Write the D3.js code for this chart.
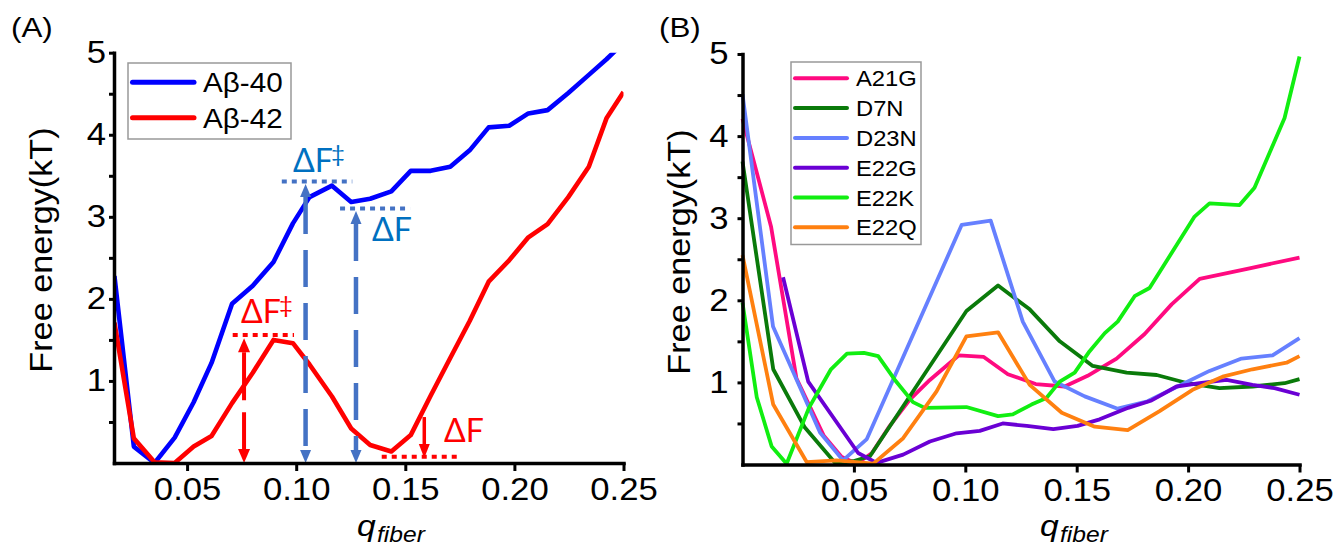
<!DOCTYPE html>
<html><head><meta charset="utf-8">
<script src="https://cdn.jsdelivr.net/npm/d3@7"></script>
<style>
html,body{margin:0;padding:0;background:#fff;}
svg{display:block;}
</style></head><body>
<svg id="chart" width="1338" height="547"></svg>
<script>
// ---------- Panel A data ----------
const qA = [0.0167,0.0256,0.0351,0.0443,0.0530,0.0612,0.0706,0.0801,0.0896,0.0985,0.1061,0.1164,0.1252,0.1339,0.1436,0.1525,0.1616,0.1706,0.1795,0.1882,0.1976,0.2064,0.2152,0.2247,0.2341,0.2422,0.2500];
const ab40 = [2.28,0.20,0.00,0.31,0.74,1.22,1.94,2.16,2.45,2.92,3.24,3.38,3.18,3.22,3.31,3.56,3.56,3.61,3.81,4.09,4.11,4.26,4.30,4.51,4.73,4.92,5.12];
const ab42 = [1.71,0.30,0.01,0.00,0.20,0.33,0.73,1.10,1.50,1.46,1.20,0.81,0.42,0.22,0.14,0.34,0.82,1.28,1.73,2.21,2.47,2.75,2.91,3.24,3.61,4.20,4.52];
const seriesA = ["Aβ-40","Aβ-42"];

// annotation values (q, free energy)
const dottedA = [ // [q0, q1, F, kind]
  [0.0934,0.1257,3.43,"b"],[0.1201,0.1522,3.10,"b"],
  [0.0709,0.0990,1.56,"r"],[0.1392,0.1743,0.077,"r"]];
const arrowsA = [ // [q, F up-tip, kind]
  [0.0761,1.52,"r"],[0.1043,3.40,"b"],[0.1274,3.07,"b"]];
const shortArrowA = [0.1587,0.56,0.06];

// ---------- Panel B data ----------
const mutants = ["A21G","D7N","D23N","E22G","E22K","E22Q"];
const A21G = [[0,4.21],[0.0128,2.90],[0.0242,1.05],[0.0365,0.35],[0.0446,0.09],[0.0513,0.01],[0.0581,0.14],[0.0661,0.47],[0.0751,0.79],[0.0841,1.03],[0.0971,1.33],[0.1083,1.31],[0.1191,1.10],[0.1316,0.98],[0.1446,0.95],[0.1549,1.08],[0.1679,1.29],[0.1805,1.59],[0.1926,1.95],[0.2052,2.26],[0.2276,2.39],[0.25,2.52]];
const D7N = [[0,3.69],[0.0138,1.16],[0.0280,0.45],[0.0419,0.01],[0.0496,0.04],[0.0572,0.10],[0.1005,1.87],[0.1147,2.18],[0.1289,1.89],[0.1424,1.50],[0.1572,1.20],[0.1724,1.12],[0.1859,1.09],[0.1998,0.99],[0.2141,0.93],[0.2289,0.95],[0.2433,0.99],[0.25,1.04]];
const D23N = [[0,4.51],[0.0137,1.68],[0.0348,0.39],[0.0451,0.05],[0.0558,0.31],[0.0984,2.92],[0.1114,2.97],[0.1258,1.74],[0.1401,1.01],[0.1536,0.83],[0.1684,0.68],[0.1818,0.77],[0.1953,0.95],[0.2096,1.14],[0.2240,1.29],[0.2379,1.33],[0.25,1.54]];
const E22G = [[0.0182,2.28],[0.0295,1.01],[0.0519,0.14],[0.0602,0.02],[0.0721,0.12],[0.0841,0.28],[0.0961,0.38],[0.1065,0.41],[0.1168,0.50],[0.1276,0.47],[0.1395,0.43],[0.1504,0.47],[0.1603,0.55],[0.1731,0.69],[0.1836,0.78],[0.1948,0.95],[0.2052,0.99],[0.2173,1.03],[0.2289,0.97],[0.2388,0.93],[0.25,0.85]];
const E22K = [[0,1.97],[0.0064,0.82],[0.0131,0.22],[0.0198,0.01],[0.0298,0.69],[0.0397,1.16],[0.0469,1.35],[0.0545,1.36],[0.0609,1.32],[0.0684,1.03],[0.0765,0.76],[0.0818,0.69],[0.1005,0.70],[0.1147,0.59],[0.1213,0.61],[0.1297,0.73],[0.1364,0.81],[0.1424,1.01],[0.1491,1.12],[0.1558,1.38],[0.1626,1.60],[0.1684,1.74],[0.1760,2.05],[0.1827,2.15],[0.2029,3.02],[0.2096,3.18],[0.2231,3.16],[0.2298,3.37],[0.2374,3.85],[0.2433,4.22],[0.25,4.97]];
const E22Q = [[0,2.55],[0.0138,0.73],[0.0288,0.03],[0.0422,0.05],[0.0587,0.01],[0.0721,0.32],[0.0871,0.89],[0.1005,1.56],[0.1147,1.61],[0.1289,0.97],[0.1433,0.63],[0.1581,0.46],[0.1729,0.42],[0.1872,0.65],[0.2020,0.91],[0.2155,1.07],[0.2289,1.16],[0.2442,1.24],[0.25,1.32]];

// ---------- ticks ----------
const xTicks = [0.05,0.10,0.15,0.20,0.25];
const xTickLabels = ["0.05","0.10","0.15","0.20","0.25"];
const yTicks = [1,2,3,4,5];
const yMinor = [0.5,1.5,2.5,3.5,4.5];

// ---------- styles ----------
const FONT = "'Liberation Sans', Arial, sans-serif";
const ANNO = "Lato, 'Open Sans', sans-serif";
const S = 1.12;
const colA = ["#0000FF","#FF0000"];
const colB = ["#FF0A80","#0A7A0A","#6680FF","#6A00D4","#11EE11","#FF8010"];
const annoCol = {b:"#4472C4", r:"#FF0000"};
const annoText = {b:"#0070C0", r:"#FF0000"};

const svg = d3.select("#chart");

function axes(x, y, labOff) {
  const gx = svg.append("g").attr("transform", `translate(0,${y(0)})`)
    .call(d3.axisBottom(x).tickValues(xTicks).tickFormat((d,i)=>xTickLabels[i]).tickSizeInner(8).tickSizeOuter(0).tickPadding(7));
  const gy = svg.append("g").attr("transform", `translate(${x.range()[0]},0)`)
    .call(d3.axisLeft(y).tickValues(yTicks).tickFormat(d3.format("d")).tickSizeInner(5).tickSizeOuter(0).tickPadding(labOff-5));
  const gm = svg.append("g").attr("transform", `translate(${x.range()[0]},0)`)
    .call(d3.axisLeft(y).tickValues(yMinor).tickFormat("").tickSizeInner(5).tickSizeOuter(0));
  gm.select(".domain").remove();
  [gx,gy,gm].forEach(g=>{
    g.attr("font-family", FONT).attr("font-size", 31);
    g.selectAll(".domain").attr("stroke","#000").attr("stroke-width",3.5).attr("stroke-linecap","square");
    g.selectAll(".tick line").attr("stroke","#000").attr("stroke-width",3);
    g.selectAll(".tick text").attr("fill","#000");
  });
  gx.selectAll(".tick text").attr("transform", `scale(${S},1)`);
  gy.selectAll(".tick text").attr("x", -labOff/S).attr("transform", `scale(${S},1)`);
}

function stretchText(x, y, str, size, opts={}) {
  return svg.append("text")
    .attr("transform", `translate(${x},${y}) ${opts.rotate?"rotate(-90) ":""}scale(${opts.s||S},1)`)
    .attr("font-family", opts.family||FONT).attr("font-size", size)
    .attr("font-style", opts.italic?"italic":"normal")
    .attr("text-anchor", opts.anchor||"start")
    .attr("fill", opts.fill||"#000").text(str);
}

function qLabel(x, y) {
  stretchText(x, y, "q", 30, {italic:true});
  stretchText(x+20, y+6, "fiber", 22, {italic:true});
}

// ================= Panel A =================
const xA = d3.scaleLinear().domain([0.0165,0.25]).range([114,623.5]);
const yA = d3.scaleLinear().domain([0,5]).range([463,52.7]);

svg.append("clipPath").attr("id","clipA").append("rect")
  .attr("x",xA.range()[0]).attr("y",yA(5)).attr("width",xA.range()[1]-xA.range()[0]).attr("height",yA(0)-yA(5));

const lineA = d3.line().x((d,i)=>xA(qA[i])).y(d=>yA(d));
[ab40, ab42].forEach((s,k)=>{
  svg.append("path").attr("d", lineA(s)).attr("fill","none").attr("stroke",colA[k])
    .attr("stroke-width",4.6).attr("stroke-linejoin","round").attr("clip-path","url(#clipA)");
});

// dotted reference lines
dottedA.forEach(([q0,q1,F,k])=>{
  svg.append("line").attr("x1",xA(q0)).attr("x2",xA(q1)).attr("y1",yA(F)).attr("y2",yA(F))
    .attr("stroke",annoCol[k]).attr("stroke-width",4).attr("stroke-dasharray","5,5");
});

function head(x, yTip, dir, w, h, col) {
  svg.append("path").attr("d", `M${x},${yTip}L${x-w/2},${yTip+dir*h}L${x+w/2},${yTip+dir*h}Z`).attr("fill",col);
}
arrowsA.forEach(([q,Ftop,k])=>{
  const x = xA(q), yt = yA(Ftop), yb = yA(0);
  const col = annoCol[k];
  const w = k==="b"?11:12, h = k==="b"?13:14;
  head(x, yt, 1, w, h, col);
  head(x, yb, -1, w, h, col);
  svg.append("line").attr("x1",x).attr("x2",x).attr("y1",yt+h).attr("y2",yb-h)
    .attr("stroke",col).attr("stroke-width",k==="b"?4.5:4)
    .attr("stroke-dasharray", k==="b" ? "37,16" : "48,12");
});
{
  const [q,F0,F1] = shortArrowA;
  const x = xA(q);
  svg.append("line").attr("x1",x).attr("x2",x).attr("y1",yA(F0)).attr("y2",yA(F1)-13)
    .attr("stroke",annoCol.r).attr("stroke-width",3.5);
  head(x, yA(F1), -1, 11, 14, annoCol.r);
}

// annotation texts
function deltaF(x, y, k, dagger) {
  svg.append("text").attr("x",x).attr("y",y).attr("font-family",ANNO).attr("font-size",32)
    .attr("fill",annoText[k]).text("ΔF");
  if (dagger) svg.append("text").attr("x",x+38).attr("y",y-10).attr("font-family",ANNO).attr("font-size",24)
    .attr("fill",annoText[k]).text("‡");
}
deltaF(293,172,"b",true);
deltaF(372,241,"b",false);
deltaF(241,323,"r",true);
deltaF(444,442,"r",false);

axes(xA, yA, 8);

// legend A
svg.append("rect").attr("x",128).attr("y",63).attr("width",163).attr("height",76)
  .attr("fill","#fff").attr("stroke","#999").attr("stroke-width",1.5);
seriesA.forEach((name,i)=>{
  const yy = 82.3 + i*35.4;
  svg.append("line").attr("x1",132.5).attr("x2",194).attr("y1",yy).attr("y2",yy)
    .attr("stroke",colA[i]).attr("stroke-width",5).attr("stroke-linecap","round");
  stretchText(203, yy+10, name, 28, {s:1.06});
});

stretchText(11, 37, "(A)", 28);
stretchText(52, 250, "Free energy(kT)", 32, {rotate:true, anchor:"middle", s:1.07});
qLabel(357, 536);

// ================= Panel B =================
const xB = d3.scaleLinear().domain([0,0.25]).range([742.5,1299.5]);
const yB = d3.scaleLinear().domain([0,5]).range([464.5,54]);
const lineB = d3.line().x(d=>xB(d[0])).y(d=>yB(d[1]));
[A21G,D7N,D23N,E22G,E22K,E22Q].forEach((s,k)=>{
  svg.append("path").attr("d", lineB(s)).attr("fill","none").attr("stroke",colB[k])
    .attr("stroke-width",3.8).attr("stroke-linejoin","round");
});
axes(xB, yB, 14);

svg.append("rect").attr("x",791).attr("y",62).attr("width",130).attr("height",182.5)
  .attr("fill","#fff").attr("stroke","#999").attr("stroke-width",1.5);
mutants.forEach((name,i)=>{
  const yy = 78.3 + i*29.8;
  svg.append("line").attr("x1",795).attr("x2",847).attr("y1",yy).attr("y2",yy)
    .attr("stroke",colB[i]).attr("stroke-width",4).attr("stroke-linecap","round");
  stretchText(856, yy+8, name, 22, {s:1.08});
});

stretchText(659, 37, "(B)", 28);
stretchText(690, 252, "Free energy(kT)", 32, {rotate:true, anchor:"middle", s:1.07});
qLabel(1040, 536);
</script>
</body></html>
